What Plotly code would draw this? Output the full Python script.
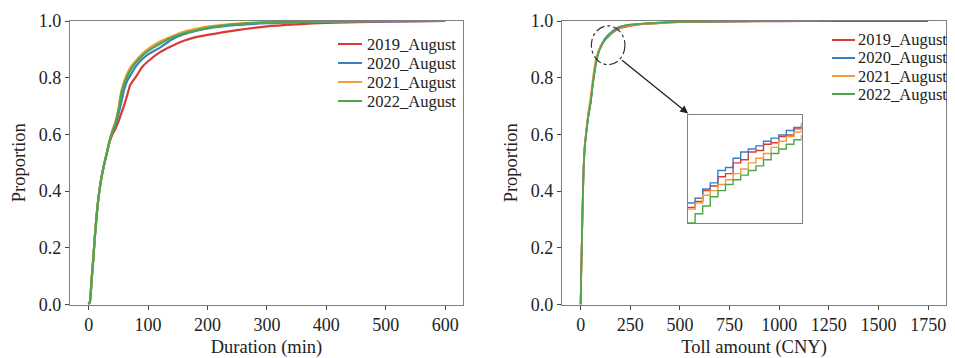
import plotly.graph_objects as go

# ---------------- data ----------------
series_names = ["2019_August", "2020_August", "2021_August", "2022_August"]
series_colors = ["#d93a35", "#3b7fc4", "#f39a3c", "#4ea64a"]

# Left panel: cumulative proportion vs trip duration (min)
duration_x = [0, 2, 5, 8, 10, 15, 20, 25, 30, 35, 40, 45, 50, 55, 60, 65, 70, 80, 90,
              100, 120, 140, 160, 180, 200, 250, 300, 350, 400, 500, 600]
duration_2019 = [0, 0.01, 0.09, 0.17, 0.23, 0.35, 0.43, 0.485, 0.53, 0.572, 0.60, 0.62, 0.645,
                 0.675, 0.705, 0.74, 0.775, 0.805, 0.838, 0.858, 0.89, 0.912, 0.93, 0.943,
                 0.951, 0.968, 0.981, 0.988, 0.993, 0.998, 1.0]
duration_2020 = [0, 0.01, 0.09, 0.17, 0.23, 0.35, 0.43, 0.485, 0.53, 0.575, 0.61, 0.632, 0.67,
                 0.715, 0.76, 0.79, 0.808, 0.842, 0.865, 0.882, 0.906, 0.935, 0.953, 0.965,
                 0.974, 0.986, 0.992, 0.995, 0.997, 0.999, 1.0]
duration_2021 = [0, 0.01, 0.09, 0.17, 0.23, 0.35, 0.43, 0.485, 0.53, 0.578, 0.615, 0.645, 0.69,
                 0.755, 0.79, 0.815, 0.836, 0.862, 0.884, 0.902, 0.928, 0.946, 0.962, 0.972,
                 0.98, 0.991, 0.996, 0.998, 0.999, 1.0, 1.0]
duration_2022 = [0, 0.01, 0.09, 0.17, 0.23, 0.35, 0.43, 0.485, 0.53, 0.577, 0.612, 0.64, 0.685,
                 0.745, 0.78, 0.805, 0.826, 0.855, 0.877, 0.895, 0.92, 0.942, 0.957, 0.966,
                 0.976, 0.989, 0.995, 0.997, 0.999, 1.0, 1.0]

# Right panel: cumulative proportion vs toll amount (CNY)
toll_x_2019 = [0, 3, 6, 10, 15, 20, 30, 40, 50, 60, 70, 80, 90, 100, 120, 140, 160, 180,
               200, 250, 300, 400, 500, 750, 1000, 1250, 1500, 1750]
toll_2019 = [0, 0.12, 0.22, 0.35, 0.48, 0.55, 0.62, 0.675, 0.715, 0.775, 0.825, 0.865, 0.892,
             0.91, 0.932, 0.946, 0.958, 0.968, 0.975, 0.983, 0.988, 0.993, 0.996, 0.998,
             0.999, 0.9995, 1.0, 1.0]
toll_x_2020 = [0, 3, 6, 10, 15, 20, 30, 40, 50, 60, 70, 80, 90, 100, 120, 140, 160, 180,
               200, 250, 300, 400, 500, 750, 1000, 1270]
toll_2020 = [0, 0.12, 0.22, 0.35, 0.48, 0.55, 0.615, 0.67, 0.71, 0.77, 0.82, 0.862, 0.89,
             0.91, 0.936, 0.952, 0.964, 0.974, 0.98, 0.987, 0.99, 0.994, 0.997, 0.999, 1.0, 1.0]
toll_x_2021 = [0, 3, 6, 10, 15, 20, 30, 40, 50, 60, 70, 80, 90, 100, 120, 140, 160, 180,
               200, 250, 300, 400, 500, 750, 1100]
toll_2021 = [0, 0.12, 0.22, 0.35, 0.48, 0.555, 0.625, 0.685, 0.73, 0.79, 0.84, 0.873, 0.895,
             0.91, 0.932, 0.947, 0.96, 0.97, 0.977, 0.985, 0.989, 0.993, 0.996, 0.999, 1.0]
toll_x_2022 = [0, 3, 6, 10, 15, 20, 30, 40, 50, 60, 70, 80, 90, 100, 120, 140, 160, 180,
               200, 250, 300, 400, 500, 750, 1200]
toll_2022 = [0, 0.12, 0.22, 0.35, 0.48, 0.55, 0.618, 0.672, 0.712, 0.772, 0.822, 0.862, 0.888,
             0.905, 0.93, 0.948, 0.962, 0.972, 0.979, 0.987, 0.99, 0.994, 0.997, 0.999, 1.0]

# Inset (zoomed detail of toll-amount curves, stepped)
inset_x = [100, 104, 108, 112, 116, 120, 124, 128, 132, 136, 140, 144, 148, 152, 156, 160]
inset_2019 = [0.910, 0.914, 0.921, 0.924, 0.930, 0.932, 0.939, 0.941, 0.946, 0.947, 0.951,
              0.952, 0.956, 0.957, 0.961, 0.963]
inset_2020 = [0.913, 0.916, 0.922, 0.926, 0.934, 0.936, 0.942, 0.946, 0.948, 0.950, 0.953,
              0.955, 0.957, 0.960, 0.962, 0.965]
inset_2021 = [0.909, 0.913, 0.918, 0.921, 0.925, 0.928, 0.932, 0.935, 0.939, 0.942, 0.945,
              0.949, 0.953, 0.956, 0.959, 0.962]
inset_2022 = [0.900, 0.906, 0.911, 0.917, 0.921, 0.925, 0.928, 0.931, 0.934, 0.937, 0.941,
              0.945, 0.948, 0.951, 0.954, 0.957]

y_ticks = [0.0, 0.2, 0.4, 0.6, 0.8, 1.0]
duration_ticks = [0, 100, 200, 300, 400, 500, 600]
toll_ticks = [0, 250, 500, 750, 1000, 1250, 1500, 1750]

# ---------------- figure ----------------
# the page adds an 8px body margin, so the figure is placed at (8, 8)
OFF = 8
W, H = 955 - 2 * OFF, 358 - OFF
FONT = "Liberation Serif, Times New Roman, serif"
FRAME = "#7f7f7f"


def px(x):
    return (x - OFF) / W


def py(y):
    return 1 - (y - OFF) / H


fig = go.Figure()

dur_series = [duration_2019, duration_2020, duration_2021, duration_2022]
for name, col, ys in zip(series_names, series_colors, dur_series):
    fig.add_trace(go.Scatter(x=duration_x, y=ys, mode="lines", name=name,
                             line=dict(color=col, width=2.2, shape="spline", smoothing=0.7),
                             xaxis="x", yaxis="y", showlegend=False))

toll_xs = [toll_x_2019, toll_x_2020, toll_x_2021, toll_x_2022]
toll_ys = [toll_2019, toll_2020, toll_2021, toll_2022]
for name, col, xs, ys in zip(series_names, series_colors, toll_xs, toll_ys):
    fig.add_trace(go.Scatter(x=xs, y=ys, mode="lines", name=name,
                             line=dict(color=col, width=1.8, shape="spline", smoothing=0.5),
                             xaxis="x2", yaxis="y2", showlegend=False))

inset_series = [inset_2019, inset_2020, inset_2021, inset_2022]
for name, col, ys in zip(series_names, series_colors, inset_series):
    fig.add_trace(go.Scatter(x=inset_x, y=ys, mode="lines", name=name,
                             line=dict(color=col, width=1.4, shape="hv"),
                             xaxis="x3", yaxis="y3", showlegend=False))

y_top = py(21.0)
y_bot = py(304.5)

axis_common = dict(showline=True, linecolor=FRAME, linewidth=1.4, mirror=True,
                   ticks="outside", ticklen=4, tickwidth=1.2, tickcolor="#444",
                   showgrid=False, zeroline=False, automargin=False,
                   tickfont=dict(family=FONT, size=18, color="#222"))
title_font = dict(family=FONT, size=18.5, color="#222")

fig.update_layout(
    width=W, height=H,
    margin=dict(l=0, r=0, t=0, b=0, autoexpand=False),
    paper_bgcolor="white", plot_bgcolor="white",
    font=dict(family=FONT, color="#222"),
    xaxis=dict(domain=[px(70), px(463)], range=[-31.5, 630], tickvals=duration_ticks,
               title=dict(text="Duration (min)", font=title_font, standoff=10),
               anchor="y", **axis_common),
    yaxis=dict(domain=[y_bot, y_top], range=[0, 1], tickvals=y_ticks, tickformat=".1f",
               title=dict(text="Proportion", font=title_font, standoff=8),
               anchor="x", **axis_common),
    xaxis2=dict(domain=[px(562), px(946)], range=[-94, 1840], tickvals=toll_ticks,
                title=dict(text="Toll amount (CNY)", font=title_font, standoff=10),
                anchor="y2", **axis_common),
    yaxis2=dict(domain=[y_bot, y_top], range=[0, 1], tickvals=y_ticks, tickformat=".1f",
                title=dict(text="Proportion", font=title_font, standoff=8),
                anchor="x2", **axis_common),
    xaxis3=dict(domain=[px(687.5), px(801.5)], range=[100, 160], anchor="y3",
                showline=True, linecolor=FRAME, linewidth=1.4, mirror=True, automargin=False,
                showticklabels=False, ticks="", showgrid=False, zeroline=False),
    yaxis3=dict(domain=[py(223), py(115)], range=[0.9, 0.97], anchor="x3",
                showline=True, linecolor=FRAME, linewidth=1.4, mirror=True, automargin=False,
                showticklabels=False, ticks="", showgrid=False, zeroline=False),
    showlegend=False,
)

# manual legends (two panels), positions in page pixels
legend_specs = [
    dict(x0=338, x1=362, tx=365, rows=[44, 63, 82, 101]),
    dict(x0=832, x1=855, tx=856, rows=[40, 58, 76, 94]),
]
for spec in legend_specs:
    for name, col, ry in zip(series_names, series_colors, spec["rows"]):
        fig.add_shape(type="line", xref="paper", yref="paper",
                      x0=px(spec["x0"]), x1=px(spec["x1"]), y0=py(ry), y1=py(ry),
                      line=dict(color=col, width=2))
        fig.add_annotation(xref="paper", yref="paper", x=px(spec["tx"]), y=py(ry),
                           text=name, showarrow=False, xanchor="left", yanchor="middle",
                           font=dict(family=FONT, size=16.5, color="#222"))

# dash-dot circle marking the zoomed region
fig.add_shape(type="circle", xref="x2", yref="y2", x0=54, x1=223, y0=0.846, y1=0.983,
              line=dict(color="#333", width=1.2, dash="dashdot"))

# arrow from circle to inset
fig.add_annotation(xref="x2", yref="y2", axref="x2", ayref="y2",
                   x=541, y=0.674, ax=201, ay=0.866, text="", showarrow=True,
                   arrowhead=2, arrowsize=1.2, arrowwidth=1.3, arrowcolor="#222")

fig.write_html("out.html")
